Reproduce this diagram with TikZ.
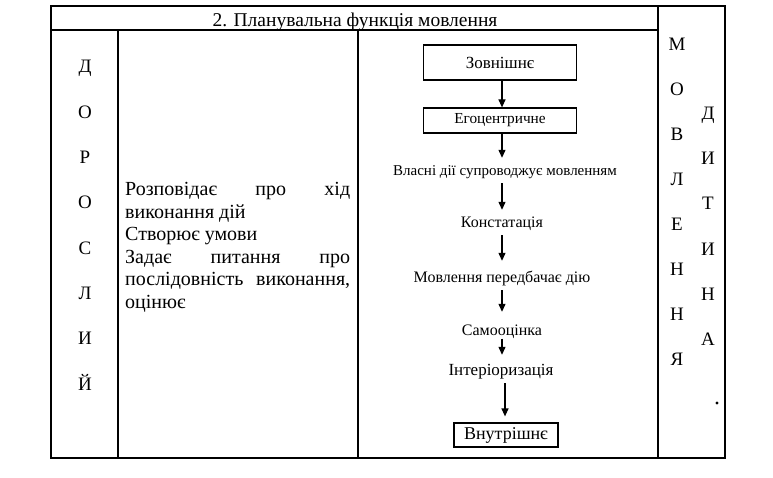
\documentclass[tikz,border=0pt]{standalone}
\usepackage{fontspec}
\setmainfont{Liberation Serif}
\usetikzlibrary{arrows.meta}
\tikzset{
  frame/.style={line width=1.3pt},
  letter/.style={font=\fontsize{19}{21}\selectfont, inner sep=0pt, anchor=base},
  headtext/.style={font=\fontsize{19.5}{21}\selectfont, inner sep=0pt, anchor=base},
  midtext/.style={font=\fontsize{20}{22.5}\selectfont, text width=225pt, align=justify, inner sep=0pt, anchor=base west},
  flowtext/.style={font=\fontsize{16}{18}\selectfont, inner sep=0pt, text height=11pt, text depth=3.5pt, anchor=base},
  flowbox/.style={draw, line width=1.2pt, font=\fontsize{16}{18}\selectfont, inner sep=0pt, align=center},
  arr/.style={line width=1.2pt, -{Triangle[length=8pt,width=7pt]}},
}
\begin{document}
\begin{tikzpicture}[x=1pt,y=-1pt]
\useasboundingbox (0,0) rectangle (773,478);
% frame
\draw[frame] (51,6) rectangle (725,458);
\draw[frame] (51,30) -- (658,30);
\draw[frame] (658,6) -- (658,458);
\draw[frame] (118,30) -- (118,458);
\draw[frame] (358,30) -- (358,458);
% header
\node[headtext] (head) at (355,26.5) {2. Планувальна функція мовлення};
% left column
\foreach \l [count=\i] in {Д,О,Р,О,С,Л,И,Й}
  \node[letter] (dl\i) at (85,{73+45.3*(\i-1)}) {\l};
% right columns
\foreach \l [count=\i] in {М,О,В,Л,Е,Н,Н,Я}
  \node[letter] (ml\i) at (677,{50.5+45*(\i-1)}) {\l};
\foreach \l [count=\i] in {Д,И,Т,И,Н,А}
  \node[letter] (cl\i) at (708,{120+45*(\i-1)}) {\l};
\node[circle, fill, inner sep=1.1pt] (dot) at (717,403) {};
% middle text
\node[midtext] (mid) at (125,196) {\hyphenpenalty=10000 Розповідає про хід\linebreak виконання дій\\Створює умови\\Задає питання про\linebreak послідовність виконання,\linebreak оцінює};
% flowchart
\node[flowbox, minimum width=153pt, minimum height=35pt, font=\fontsize{17}{19}\selectfont] (f1) at (500,62.5) {Зовнішнє};
\node[flowbox, minimum width=153pt, minimum height=25pt, font=\fontsize{15.3}{17}\selectfont] (f2) at (500,120.5) {Егоцентричне};
\node[flowtext, font=\fontsize{15}{17}\selectfont] (f3) at (505,176) {Власні дії супроводжує мовленням};
\node[flowtext] (f4) at (502,228) {Констатація};
\node[flowtext] (f5) at (502,282) {Мовлення передбачає дію};
\node[flowtext] (f6) at (502,335) {Самооцінка};
\node[flowtext, font=\fontsize{17}{19}\selectfont] (f7) at (501,375) {Інтеріоризація};
\node[flowbox, minimum width=104pt, minimum height=24pt, font=\fontsize{18}{20}\selectfont] (f8) at (506,435) {Внутрішнє};
\draw[arr] ([xshift=2pt]f1.south) -- ([xshift=2pt]f2.north);
\draw[arr] ([xshift=2pt]f2.south) -- ([xshift=-3pt,yshift=7pt]f3.north);
\draw[arr] ([xshift=-3pt,yshift=-3.5pt]f3.south) -- ([yshift=7pt]f4.north);
\draw[arr] ([yshift=-3.5pt]f4.south) -- ([yshift=10pt]f5.north);
\draw[arr] ([yshift=-4.5pt]f5.south) -- ([yshift=12pt]f6.north);
\draw[arr] (f6.south) -- ([xshift=1pt,yshift=9pt]f7.north);
\draw[arr] ([xshift=4pt,yshift=-4.5pt]f7.south) -- ([xshift=-1pt,yshift=6pt]f8.north);
\end{tikzpicture}
\end{document}
